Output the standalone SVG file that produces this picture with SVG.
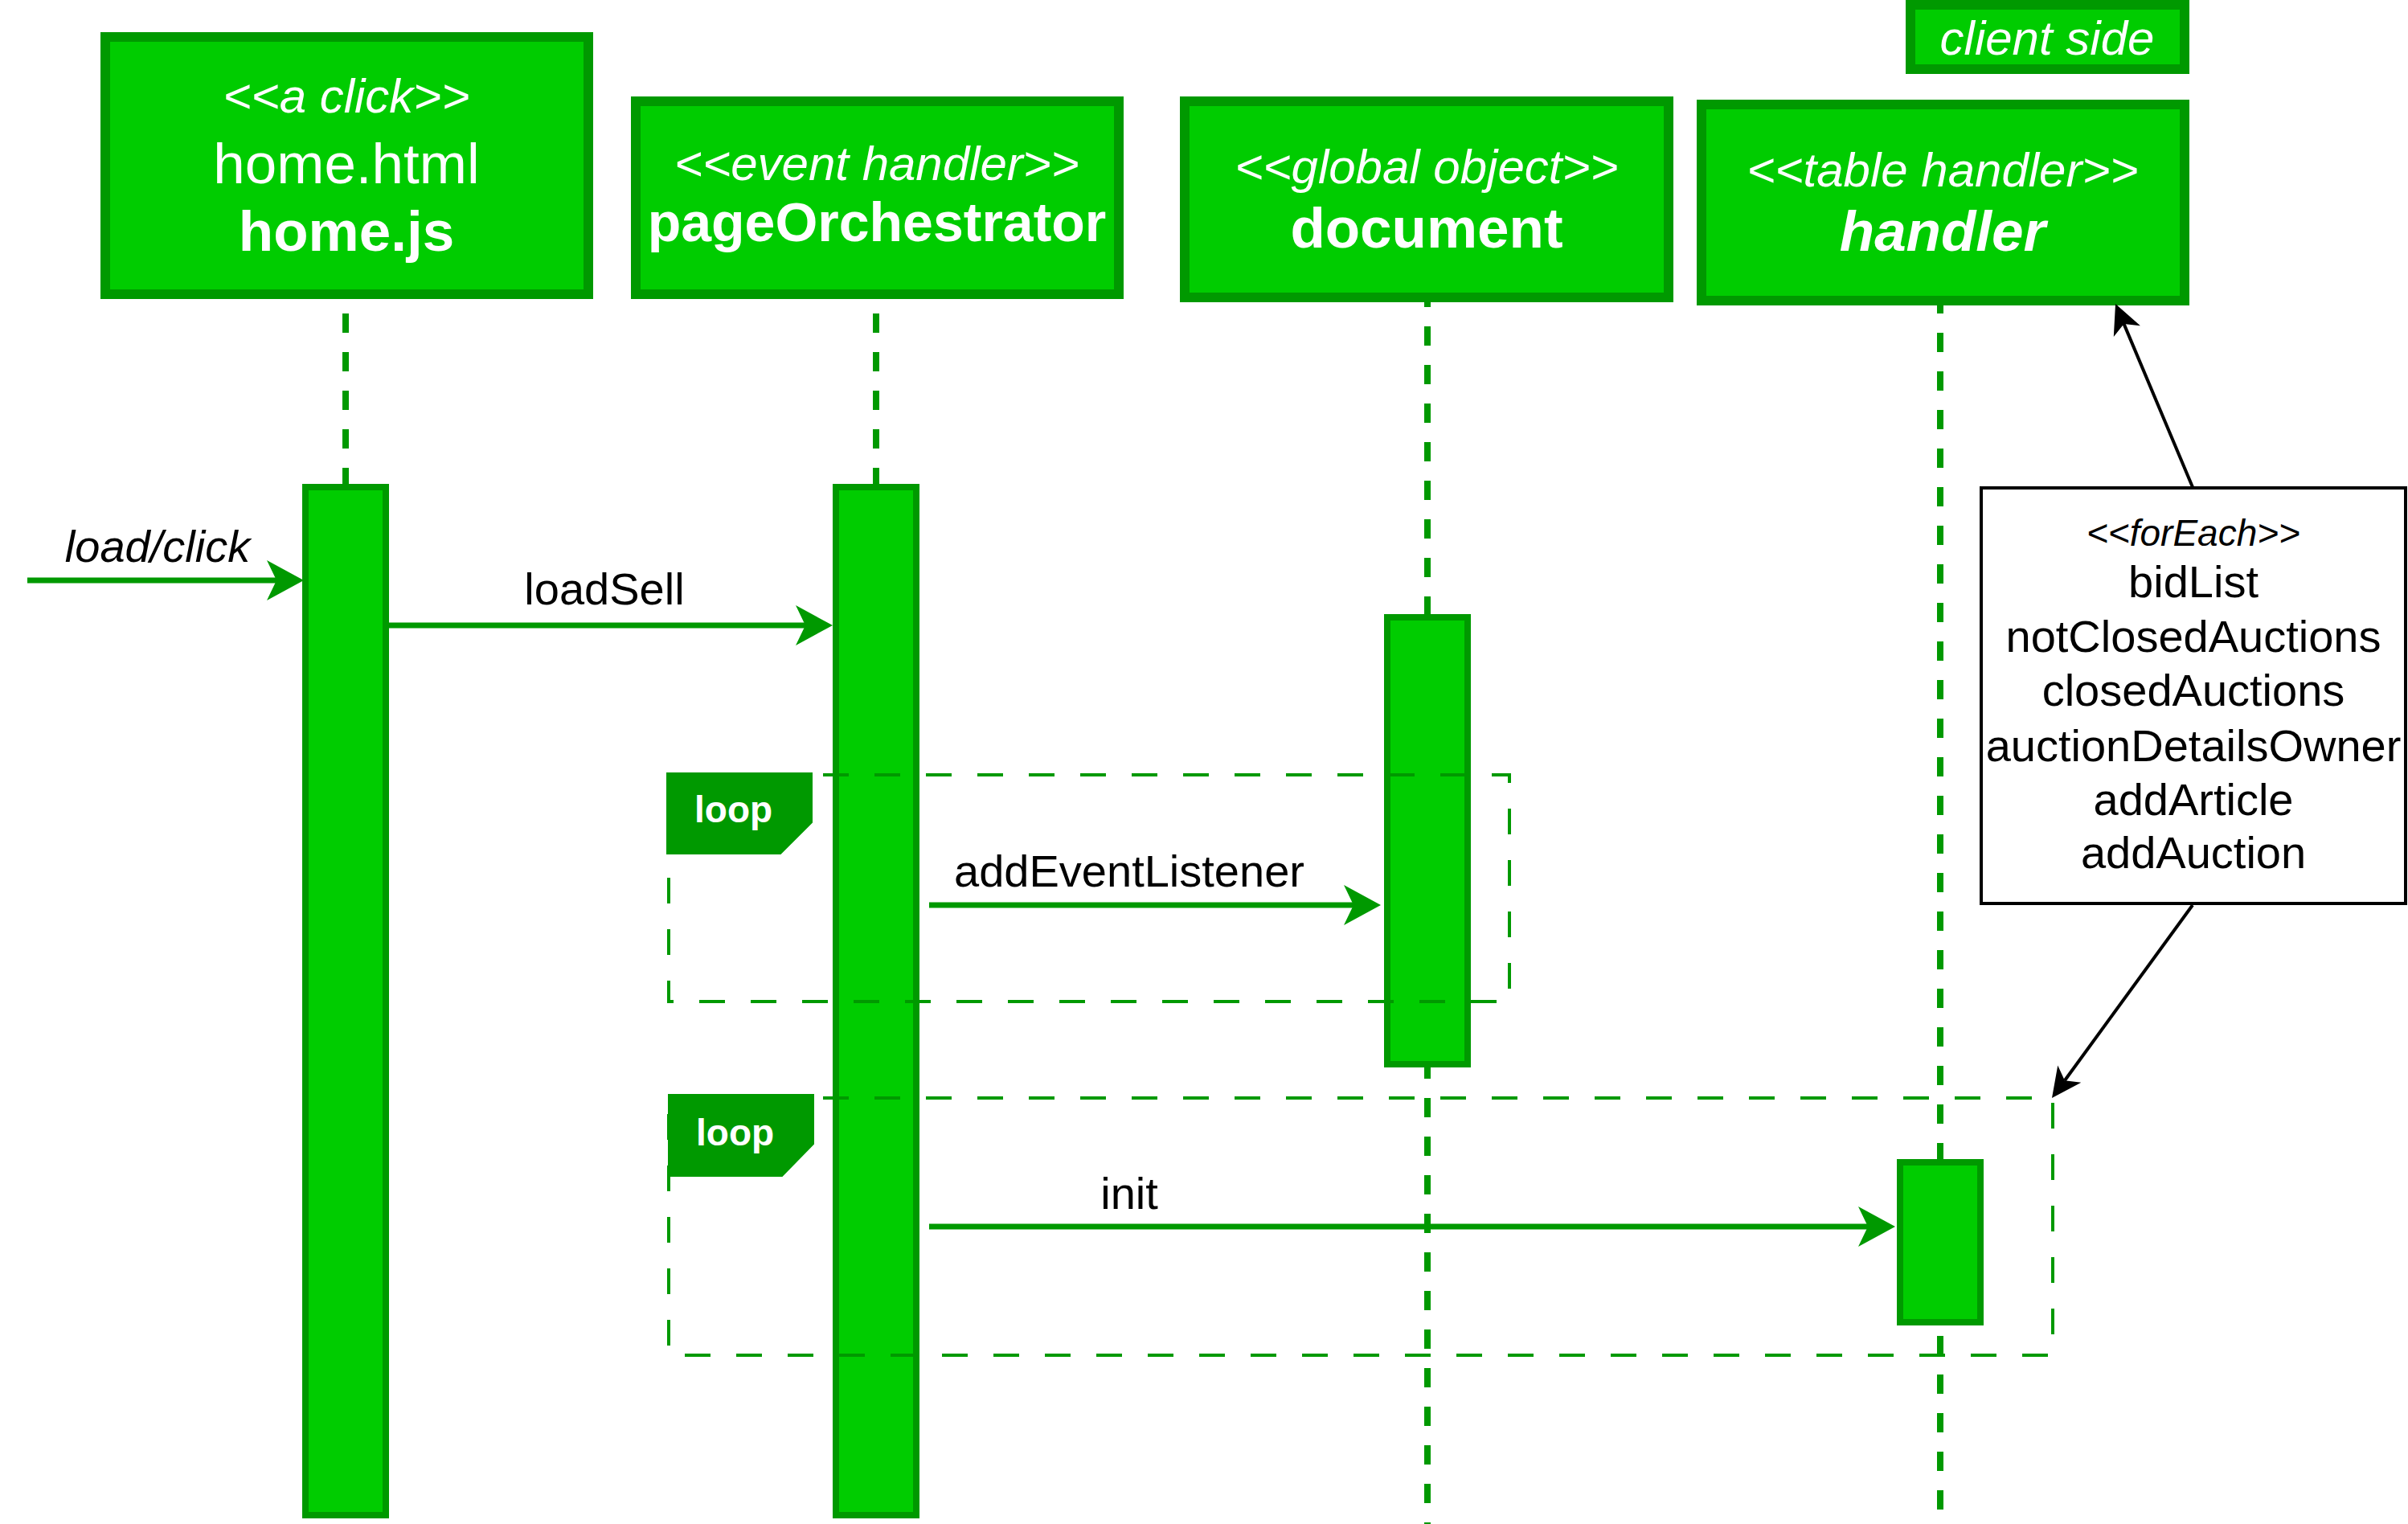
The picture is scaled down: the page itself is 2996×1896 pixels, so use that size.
<svg xmlns="http://www.w3.org/2000/svg" width="2996" height="1896" viewBox="0 0 2996 1896">
<style>
.box{fill:#00CC00;stroke:#009900;stroke-width:12}
.bar{fill:#00CC00;stroke:#009900;stroke-width:8}
.life{stroke:#009900;stroke-width:8;stroke-dasharray:24 24;fill:none}
.frame{fill:none;stroke:#009900;stroke-width:4;stroke-dasharray:32 32}
.tab{fill:#009900;stroke:#009900;stroke-width:2}
.msg{stroke:#009900;stroke-width:7;fill:none}
.note-line{stroke:#000;stroke-width:4;fill:none}
.w{fill:#fff;font-family:"Liberation Sans",Arial,sans-serif;text-anchor:middle}
.st{font-size:60px;font-style:italic}
.nm{font-size:71px}
.b{font-weight:bold}
.lbl{fill:#000;font-family:"Liberation Sans",Arial,sans-serif;font-size:56px;text-anchor:middle}
.stn{fill:#000;font-family:"Liberation Sans",Arial,sans-serif;font-size:46px;font-style:italic;text-anchor:middle}
.loop{fill:#fff;font-family:"Liberation Sans",Arial,sans-serif;font-size:46px;font-weight:bold}
</style>
<defs>
<marker id="ga" markerUnits="userSpaceOnUse" markerWidth="50" markerHeight="52" refX="12" refY="26" orient="auto" overflow="visible">
<path d="M0,1 L46,26 L0,51 L12,26 Z" fill="#009900"/>
</marker>
<marker id="ba" markerUnits="userSpaceOnUse" markerWidth="40" markerHeight="36" refX="10" refY="18" orient="auto" overflow="visible">
<path d="M0,0 L37,18 L0,36 L10,18 Z" fill="#000"/>
</marker>
</defs>

<g id="lifelines">
<line class="life" x1="430" y1="342" x2="430" y2="606"/>
<line class="life" x1="1090" y1="342" x2="1090" y2="606"/>
<line class="life" x1="1776" y1="358" x2="1776" y2="1896"/>
<line class="life" x1="2414" y1="366" x2="2414" y2="1896"/>
</g>

<g id="node-home">
<rect class="box" x="131" y="46" width="601" height="320"/>
<text class="w st" x="431" y="140">&lt;&lt;a click&gt;&gt;</text>
<text class="w nm" x="431" y="228">home.html</text>
<text class="w nm b" x="431" y="312">home.js</text>
</g>

<g id="node-pageOrchestrator">
<rect class="box" x="791" y="126" width="601" height="240"/>
<text class="w st" x="1091" y="224">&lt;&lt;event handler&gt;&gt;</text>
<text class="w b" style="font-size:68px" x="1091" y="300">pageOrchestrator</text>
</g>

<g id="node-document">
<rect class="box" x="1474" y="126" width="602" height="244"/>
<text class="w st" x="1775" y="228">&lt;&lt;global object&gt;&gt;</text>
<text class="w nm b" x="1775" y="308">document</text>
</g>

<g id="node-handler">
<rect class="box" x="2117" y="130" width="601" height="244"/>
<text class="w st" x="2417" y="232">&lt;&lt;table handler&gt;&gt;</text>
<text class="w nm b" style="font-style:italic" x="2417" y="312">handler</text>
</g>

<g id="node-client-side">
<rect class="box" x="2377" y="6" width="341" height="80"/>
<text class="w st" x="2547" y="68">client side</text>
</g>

<g id="activations">
<rect class="bar" x="380" y="606" width="100" height="1279"/>
<rect class="bar" x="1040" y="606" width="100" height="1279"/>
<rect class="bar" x="1726" y="768" width="100" height="556"/>
<rect class="bar" x="2364" y="1446" width="100" height="199"/>
</g>

<g id="loop1">
<rect class="frame" x="832" y="964" width="1046" height="282"/>
<path class="tab" d="M830,962 H1010 V1023 L971,1062 H830 Z"/>
<text class="loop" x="864" y="1023">loop</text>
</g>

<g id="loop2">
<rect class="frame" x="832" y="1366" width="1722" height="320"/>
<path class="tab" d="M832,1362 H1012 V1423 L973,1463 H832 Z"/>
<text class="loop" x="866" y="1425">loop</text>
</g>

<g id="connectors">
<line class="msg" x1="34" y1="722" x2="344" y2="722" marker-end="url(#ga)"/>
<line class="msg" x1="484" y1="778" x2="1002" y2="778" marker-end="url(#ga)"/>
<line class="msg" x1="1156" y1="1126" x2="1684" y2="1126" marker-end="url(#ga)"/>
<line class="msg" x1="1156" y1="1526" x2="2324" y2="1526" marker-end="url(#ga)"/>
<line class="note-line" x1="2728" y1="606" x2="2642.5" y2="402.9" marker-end="url(#ba)"/>
<line class="note-line" x1="2728" y1="1126" x2="2568.9" y2="1344.2" marker-end="url(#ba)"/>
</g>

<g id="labels">
<text class="lbl" style="font-style:italic" x="196" y="699">load/click</text>
<text class="lbl" x="752" y="752">loadSell</text>
<text class="lbl" x="1405" y="1103">addEventListener</text>
<text class="lbl" x="1405" y="1504">init</text>
</g>

<g id="note-forEach">
<rect x="2465" y="607" width="528" height="517" fill="#fff" stroke="#000" stroke-width="4"/>
<text class="stn" x="2729" y="679">&lt;&lt;forEach&gt;&gt;</text>
<text class="lbl" x="2729" y="743">bidList</text>
<text class="lbl" x="2729" y="811">notClosedAuctions</text>
<text class="lbl" x="2729" y="878">closedAuctions</text>
<text class="lbl" x="2729" y="947">auctionDetailsOwner</text>
<text class="lbl" x="2729" y="1014">addArticle</text>
<text class="lbl" x="2729" y="1080">addAuction</text>
</g>
</svg>
